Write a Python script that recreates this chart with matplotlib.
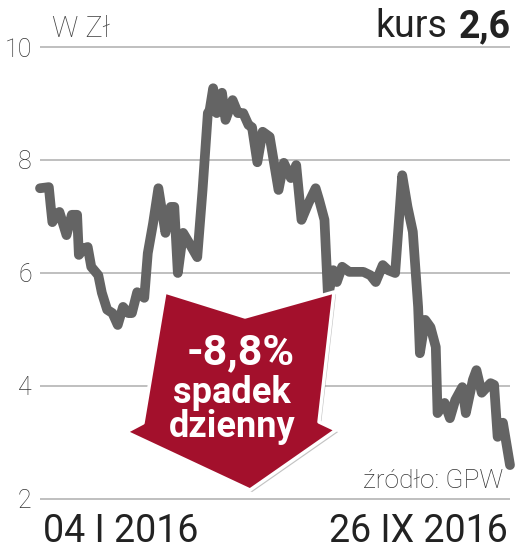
import matplotlib
matplotlib.use("Agg")
import matplotlib.pyplot as plt
from matplotlib.patches import Polygon
import matplotlib.patheffects as pe

# Data: calendar days since 04 I 2016, share price in zl
days = [0, 5, 6, 7, 10, 11, 15, 18, 21, 22, 25, 27, 29, 33, 35, 38, 41, 44, 47, 50,
        52, 55, 59, 61, 64, 67, 71, 74, 76, 78, 81, 85, 89, 92, 95, 96, 98, 100, 103, 105,
        108, 109, 112, 115, 118, 120, 123, 126, 130, 135, 138, 142, 145, 148, 152, 156, 158, 161, 163, 166,
        168, 171, 175, 183, 187, 190, 194, 197, 201, 205, 208, 211, 214, 215, 218, 221, 224, 225, 229, 232,
        235, 239, 241, 245, 247, 250, 255, 257, 259, 262, 266]
price = [7.50, 7.52, 7.20, 6.90, 7.06, 7.08, 6.67, 7.03, 7.03, 6.32, 6.44, 6.46, 6.11, 5.96, 5.65, 5.35, 5.29, 5.08, 5.40, 5.29,
         5.29, 5.66, 5.56, 6.35, 6.88, 7.50, 6.71, 7.17, 7.17, 6.00, 6.71, 6.50, 6.28, 7.47, 8.83, 8.88, 9.27, 8.83, 9.19, 8.71,
         8.97, 9.06, 8.83, 8.83, 8.62, 8.58, 7.96, 8.50, 8.41, 7.47, 7.95, 7.68, 7.91, 6.94, 7.24, 7.50, 7.29, 6.94, 5.58, 6.05,
         5.84, 6.11, 6.02, 6.02, 5.96, 5.84, 6.14, 6.05, 6.00, 7.73, 7.17, 6.73, 5.40, 4.58, 5.17, 5.04, 4.69, 3.52, 3.70, 3.43,
         3.75, 3.98, 3.52, 4.11, 4.28, 3.88, 4.05, 4.02, 3.10, 3.35, 2.60]
yticks = [2, 4, 6, 8, 10]
start_label = "04 I 2016"
end_label = "26 IX 2016"
last_price = "2,6"
change_text = ["-8,8%", "spadek", "dzienny"]

W, H = 515, 551
fig = plt.figure(figsize=(W / 100, H / 100), dpi=100)
fig.patch.set_facecolor("white")

ax = fig.add_axes([40 / W, 0.0739, 470 / W, 0.8613])
ax.plot(days, price, color="#646464", lw=7, solid_joinstyle="round",
        solid_capstyle="round", clip_on=False, zorder=3)
ax.set_xlim(0, 266)
ax.set_ylim(1.8, 10.2)
ax.set_yticks(yticks)
ax.set_yticklabels([str(t) for t in yticks], fontsize=18, color="#333333",
                   family="Roboto", fontweight="light")
ax.set_xticks([])
ax.tick_params(axis="y", length=0, pad=6)
ax.grid(axis="y", color="#b4b4b4", lw=1.2)
ax.set_axisbelow(True)
for s in ax.spines.values():
    s.set_visible(False)

# overlay in pixel coordinates for annotations
ov = fig.add_axes([0, 0, 1, 1])
ov.set_xlim(0, W)
ov.set_ylim(H, 0)
ov.axis("off")
ov.patch.set_alpha(0)

ov.text(52, 37, "W Zł", fontsize=21, color="#444444", family="Roboto",
        fontweight="light", va="baseline", ha="left")
ov.text(447, 37, "kurs", fontsize=27, color="#222222", family="Roboto",
        va="baseline", ha="right")
ov.text(511, 37, last_price, fontsize=27, color="#222222", family="Roboto",
        fontweight="bold", va="baseline", ha="right")
ov.text(43, 542, start_label, fontsize=27, color="#222222", family="Roboto",
        va="baseline", ha="left")
ov.text(508, 542, end_label, fontsize=27, color="#222222", family="Roboto",
        va="baseline", ha="right")
ov.text(503, 488, "źródło: GPW", fontsize=19, color="#333333", family="Roboto",
        fontweight="light", va="baseline", ha="right")

arrow = [(165, 292), (245, 317), (334, 292), (319, 422), (336, 430),
         (250, 490), (126, 432), (143, 423)]
poly = Polygon(arrow, closed=True, facecolor="#a3102c", edgecolor="white", lw=2.5,
               joinstyle="round", zorder=5)
poly.set_path_effects([pe.SimplePatchShadow(offset=(1.5, -1.5), shadow_rgbFace="#888888", alpha=0.5),
                       pe.Normal()])
ov.add_patch(poly)

ov.text(241, 364, change_text[0], fontsize=31, color="white", family="Roboto",
        fontweight="bold", va="baseline", ha="center", zorder=6)
ov.text(232, 403, change_text[1], fontsize=26, color="white", family="Roboto",
        fontweight="bold", va="baseline", ha="center", zorder=6)
ov.text(232, 437, change_text[2], fontsize=26, color="white", family="Roboto",
        fontweight="bold", va="baseline", ha="center", zorder=6)

fig.savefig("out.png", dpi=100)
